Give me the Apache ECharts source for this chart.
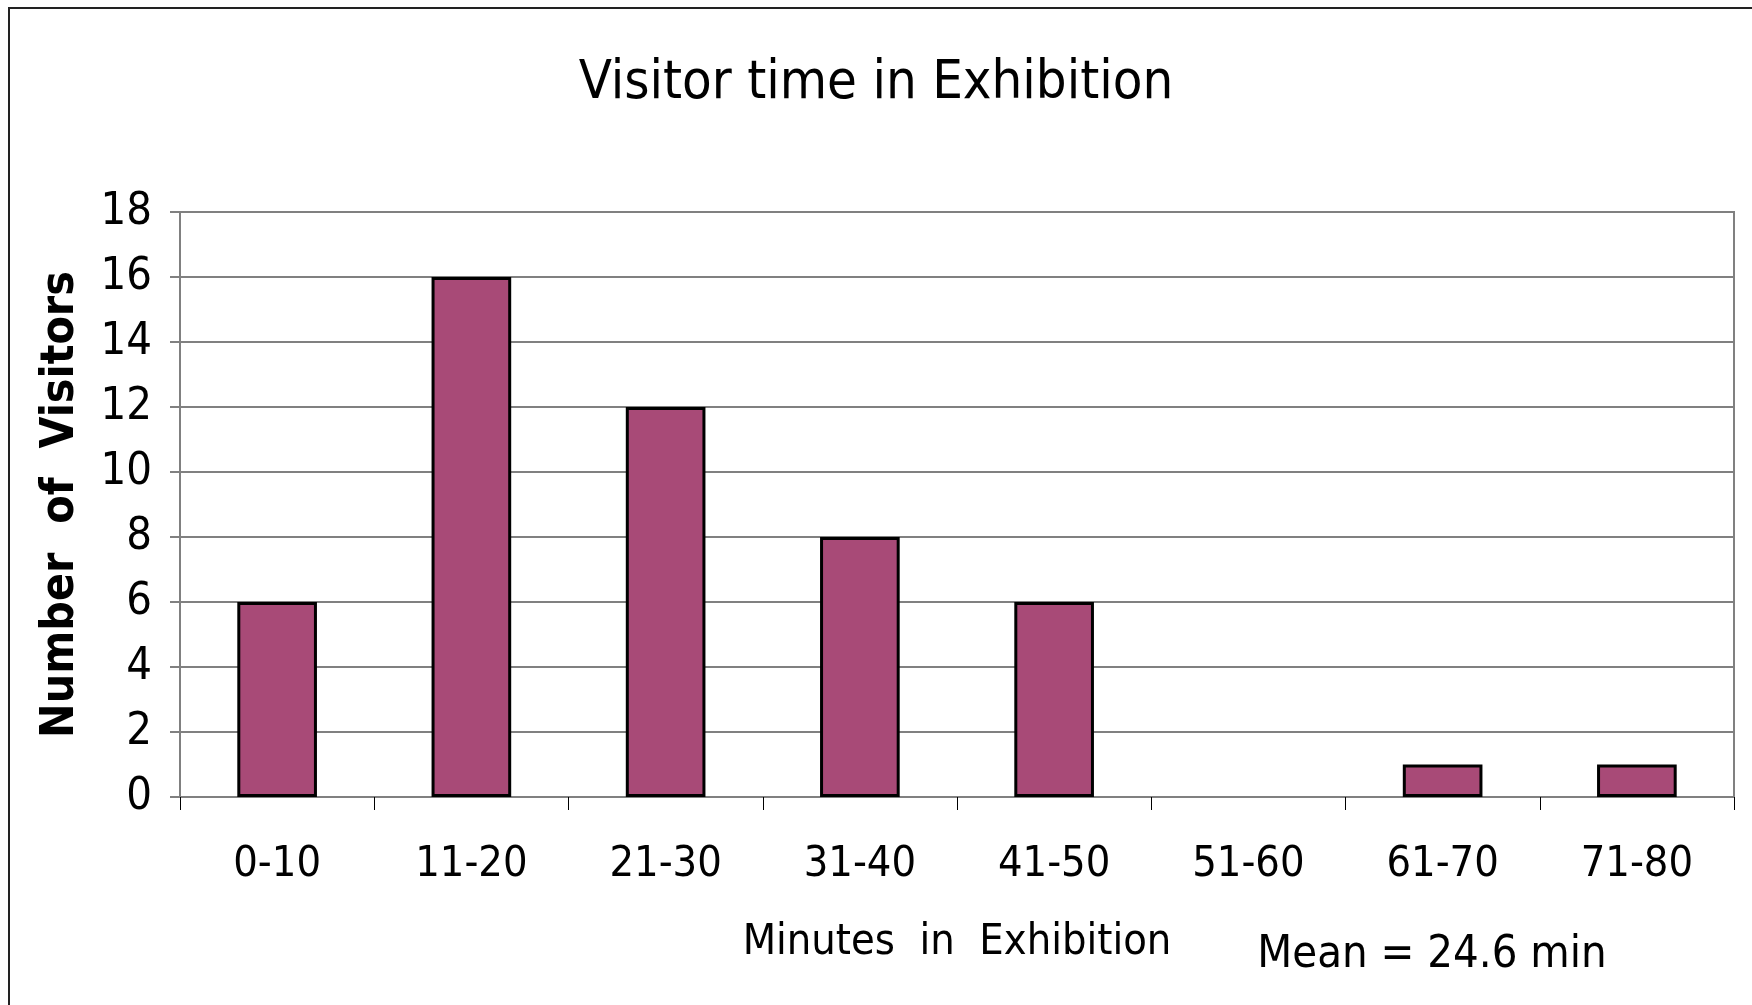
<!DOCTYPE html>
<html>
<head>
<meta charset="utf-8">
<script src="https://cdn.jsdelivr.net/npm/echarts@6/dist/echarts.min.js"></script>
<style>
html,body{margin:0;padding:0;background:#fff;}
#chart{width:1752px;height:1005px;}
</style>
</head>
<body>
<div id="chart"></div>
<script>
var categories = ['0-10','11-20','21-30','31-40','41-50','51-60','61-70','71-80'];
var visitors = [6, 16, 12, 8, 6, 0, 1, 1];
var yTicks = {min: 0, max: 18, interval: 2};
var titleText = 'Visitor time in Exhibition';
var xName = 'Minutes  in  Exhibition';
var yName = 'Number  of  Visitors';
var meanText = 'Mean = 24.6 min';

var FONT = '"Liberation Sans Narrow", "DejaVu Sans Condensed", sans-serif';
var barData = visitors.map(function (v) {
  return v === 0 ? {value: v, itemStyle: {borderWidth: 0}} : v;
});
var chart = echarts.init(document.getElementById('chart'), null, {renderer: 'canvas'});
chart.setOption({
  animation: false,
  backgroundColor: '#ffffff',
  title: {
    text: titleText,
    left: 'center',
    top: 52,
    textStyle: {fontFamily: FONT, fontSize: 54, fontWeight: 'normal', color: '#000'}
  },
  grid: {left: 180, right: 18, top: 212, bottom: 208, show: true, borderColor: '#808080', borderWidth: 2, containLabel: false},
  xAxis: {
    type: 'category',
    data: categories,
    axisLine: {lineStyle: {color: '#808080', width: 2}},
    axisTick: {show: true, length: 13, interval: 0, lineStyle: {color: '#000', width: 1}},
    axisLabel: {fontFamily: FONT, fontSize: 43, color: '#000', margin: 46, interval: 0},
    name: xName,
    nameLocation: 'middle',
    nameGap: 124,
    nameTextStyle: {fontFamily: FONT, fontSize: 43, color: '#000'}
  },
  yAxis: {
    type: 'value',
    min: yTicks.min, max: yTicks.max, interval: yTicks.interval,
    axisLine: {show: true, lineStyle: {color: '#808080', width: 2}},
    axisTick: {show: true, length: 10, lineStyle: {color: '#808080', width: 2}},
    splitLine: {lineStyle: {color: '#808080', width: 2}},
    axisLabel: {fontFamily: FONT, fontSize: 45, color: '#000', margin: 28},
    name: yName,
    nameLocation: 'middle',
    nameGap: 96,
    nameRotate: 90,
    nameTextStyle: {fontFamily: FONT, fontSize: 46, fontWeight: 'bold', color: '#000'}
  },
  series: [{
    type: 'bar',
    data: barData,
    barWidth: '41%',
    itemStyle: {color: '#A84A77', borderColor: '#000', borderWidth: 3}
  }],
  graphic: [
    {type: 'rect', shape: {x: 9, y: 8, width: 1800, height: 1100}, style: {fill: 'none', stroke: '#222', lineWidth: 2}, z: -1},
    {type: 'text', x: 1432, y: 955, style: {text: meanText, fontFamily: FONT, fontSize: 45, fill: '#000', textAlign: 'center', textVerticalAlign: 'middle'}}
  ]
});
</script>
</body>
</html>
